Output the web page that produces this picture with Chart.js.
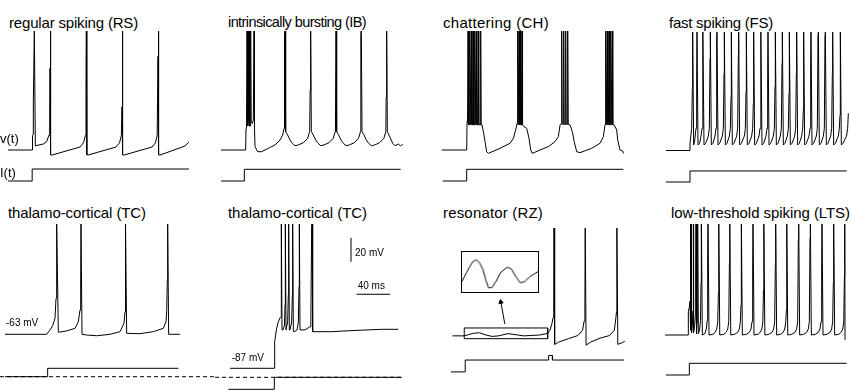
<!DOCTYPE html>
<html>
<head>
<meta charset="utf-8">
<script src="https://cdn.jsdelivr.net/npm/chart.js@4.4.1/dist/chart.umd.min.js"></script>
<style>
html, body { margin: 0; padding: 0; background: #fff; }
#fig { position: relative; width: 851px; height: 391px; overflow: hidden;
       font-family: "Liberation Sans", Arial, Helvetica, sans-serif; color: #000; }
#fig canvas { position: absolute; }
.lbl { position: absolute; white-space: nowrap; line-height: 1; }
</style>
</head>
<body>
<div id="fig"></div>
<script>
// membrane potential traces, [time ms, v mV]
var rsV = [[0,-70],[28.8,-70],[29.4,-58],[30,-57],[30.4,-30],[31.6,30],[32.8,-66.7],[33.2,-66.4],[42.4,-65],[46.4,-63],[49.2,-57.5],[50,-49],[50.4,-2],[50.8,30],[51.4,-74],
  [52.8,-74.2],[86.4,-67.5],[90.6,-64],[92.8,-58],[93.6,-14],[94,30],[94.6,-74],
  [96,-74.2],[129.6,-67.5],[133.8,-64],[136,-58],[136.8,-34],[137.2,30],[137.8,-74],
  [139.2,-74.2],[172.8,-67.5],[177,-64],[179,-58],[180,8],[180.4,30],[181,-74],
  [182.4,-74.2],[212.4,-66.7],[216,-64],[217.2,-63.3]];
var ibV = [[0,-70],[29.6,-70],[30,-52],[30.6,-47],[31.2,30],[31.8,-46],[32.2,-50],[32.8,30],[33.4,-47],[33.6,-50],[34,30],[34.6,-46],[35,-50],[35.6,30],[36.2,-46],[37.6,-48],[38.8,-45],[39.6,30],[40.2,-52],[40.8,-67],[44,-71.4],[48.8,-71.4],[56.8,-68.6],[64.8,-65.8],[70.8,-61.7],[74,-57.5],[75.6,-52],[76.2,27],[76.8,30],
  [77.6,-54.7],[80,-57.5],[82.8,-61.7],[85.6,-64.4],[88.8,-66.4],[92.8,-65.8],[98.8,-63.9],[104,-60.3],[106.4,-54.7],[107,-20],[107.6,30],
  [108.4,-54.7],[110.8,-57.5],[113.6,-61.7],[116.4,-64.4],[119.6,-66.4],[123.6,-65.8],[129.6,-63.9],[134.6,-60.3],[137,-54.7],[137.4,-37],[138,30],
  [138.8,-54.7],[141.2,-57.5],[144,-61.7],[146.8,-64.4],[150,-66.4],[154,-65.8],[160,-63.9],[165,-60.3],[167.4,-54.7],[167.8,27],[168.4,30],
  [169.2,-54.7],[171.6,-57.5],[174.4,-61.7],[177.2,-64.4],[180.4,-66.4],[184.4,-65.8],[190.4,-63.9],[195.4,-60.3],[197.8,-54.7],[198.2,-26],[198.8,30],
  [199.6,-54.7],[202.8,-59.4],[206,-64.4],[208.8,-66.4],[212.8,-65],[215.6,-66.7],[218,-65]];
var chV = [[0,-70],[30,-70],[30.4,-46.4],[31,-47],[31.6,30],[32.2,-49],[33,-49],[33.6,30],[34.2,-49],[35,-49],[35.5,30],[36.1,-49],[37,-49],[37.6,30],[38.2,-49],[39,-49],[39.6,30],[40.2,-49],[41,-49],[41.5,30],[42.1,-49],[43.2,-49],[43.9,30],[44.5,-49],[46,-49],[46.8,30],[47.4,-49],[48.4,-49],[50,-54.7],[52,-63],[54,-71.4],[56,-72.8],[70,-68.6],[82,-64.4],[86,-60.3],[89.2,-52],[90.4,-48],[91.2,30],[91.8,-49],[92.3,-49],[92.8,30],[93.4,-49],[93.8,-49],[94.3,30],[94.9,-49],[95.7,-49],[96.4,30],[97,-49],[98.8,-50.6],[102,-52],[104.8,-60.3],[106.8,-70],[108.7,-72.8],[118,-70],[128,-67.2],[136,-63],[140,-58.9],[142,-49.2],[143.2,-48],[144,30],[144.6,-48.6],[145.6,-48.6],[146.4,30],[147,-48.6],[148,-48.6],[148.8,30],[149.4,-48.6],[150.4,-48.6],[151.2,30],[151.8,-48.6],[154,-49],[156.7,-54.7],[159,-63],[162,-71.4],[166,-72.2],[180,-68.6],[190,-64.4],[194,-58.9],[196,-49],[196.8,30],[197.4,-49],[198,-49],[198.7,30],[199.3,-49],[200,-49],[200.8,30],[201.4,-49],[202,-49],[202.8,30],[203.4,-49],[204,-49],[204.7,30],[205.3,-49],[206.8,-49],[210,-53.3],[211.2,-61.7],[214,-70],[217.2,-70.8],[218,-72.8]];
var fsV = [[0,-70],[28.8,-70],[28.8,-64],[30.8,-51.5],
  [31.6,-18.2],[32,30],[33.2,-65.4],[34.4,-62],[36,-51.5],
  [36.8,-11.3],[37.2,30],[38.4,-65.4],[40.4,-64],[42,-58],[43.2,-51.5],
  [44,-5.7],[44.4,30],[45.6,-65.4],[47.6,-64],[50.8,-58],[52,-51.5],
  [52.8,6.8],[53.2,30],[54.4,-65.4],[56.4,-64],[58.8,-58],[60,-51.5],
  [60.8,20.7],[61.2,30],[62.4,-65.4],[64.4,-64],[67.6,-58],[68.8,-51.5],
  [69.6,-5.7],[70,30],[71.2,-65.4],[73.2,-64],[76,-58],[77.2,-51.5],
  [78,-25.2],[78.4,30],[79.6,-65.4],[81.6,-64],[84.8,-58],[86,-51.5],
  [86.8,9.6],[87.2,30],[88.4,-65.4],[90.4,-64],[94,-58],[95.2,-51.5],
  [96,-21],[96.4,30],[97.6,-65.4],[99.6,-64],[102.8,-58],[104,-51.5],
  [104.8,-30.7],[105.2,30],[106.4,-65.4],[108.4,-64],[111.6,-58],[112.8,-51.5],
  [113.6,2.7],[114,30],[115.2,-65.4],[117.2,-64],[120,-58],[121.2,-51.5],
  [122,-9.8],[122.4,30],[123.6,-65.4],[125.6,-64],[128.8,-58],[130,-51.5],
  [130.8,-16.8],[131.2,30],[132.4,-65.4],[134.4,-64],[137.2,-58],[138.4,-51.5],
  [139.2,2.7],[139.6,30],[140.8,-65.4],[142.8,-64],[145.6,-58],[146.8,-51.5],
  [147.6,-22.3],[148,30],[149.2,-65.4],[151.2,-64],[154.4,-58],[155.6,-51.5],
  [156.4,-5.7],[156.8,30],[158,-65.4],[160,-64],[162.8,-58],[164,-51.5],
  [164.8,-36.3],[165.2,30],[166.4,-65.4],[168.4,-64],[171.6,-58],[172.8,-51.5],
  [173.6,4],[174,30],[175.2,-65.4],[177.2,-64],[180.4,-58],[181.6,-51.5],
  [182.4,26],[182.8,30],[184,-65.4],[186,-64],[188.8,-58],[190,-51.5],
  [190.8,26],[191.2,30],[192.4,-65.4],[194.4,-64],[197.6,-58],[198.8,-51.5],
  [199.6,-5.7],[200,30],[201.2,-65.4],[203.2,-64],[206.8,-58],[208,-51.5],
  [208.8,-40.4],[209.2,30],[210.4,-65.4],[212.4,-64],[216.6,-58],[218,-51.5],[218.8,-39]];
var tc1V = [[0,-63],[50,-63],[54,-59.4],[57.2,-55.8],[60,-49.7],[61.2,-33],[61.8,19.7],[62.2,30],[64,-61.3],[74,-60.2],[84,-58],[88,-52.5],[90,-42.8],[90.8,-21.9],[91.2,30],[92.4,-63],[98,-63.6],[110,-64.2],[126,-63],[138,-60.8],[142.8,-53.8],[144,-44.2],[144.4,-19.4],[144.8,30],[146,-62.2],[162,-62.5],[178,-60.8],[190,-58],[193.2,-52.5],[194,-44.2],[194.8,-17.8],[195.2,30],[196.4,-63],[210,-63]];
var tc2V = [[0,-87],[53.2,-87],[53.6,-64.8],[56,-53.7],[58,-48.2],[60,-45],[61.2,-44],[61.6,35],[62.4,-55],[63.6,-55],[65.4,-51],[66,-34.2],[66.4,35],[67.2,-55],[67.8,-55],[69.2,-48.4],[70,-25.9],[70.4,35],[71.2,-55],[72,-55],[74,-48.4],[74.8,-25.9],[75.2,35],[76,-55],[76.8,-56.7],[80.4,-55],[82,-49.2],[82.8,-19.2],[83.2,35],[84,-55],[90,-55],[96,-52.3],[97,-48.2],[98,30],[98.4,35],[99.2,-56.5],[102,-56.5],[122,-56.5],[142,-55.7],[162,-55.1],[182,-54.5],[202,-54.5]];
var rzV = [[0,-70],[14.9,-70],[26,-67.8],[34,-67.2],[42,-69.2],[50,-70.5],[58,-70],[70,-68],[82,-69.2],[90,-70],[98,-69.7],[110,-69.2],[120,-67.8],[122.9,-65],[125.3,-59.4],[126.8,-53.8],[127.6,-49.4],[128,30],[128.8,-77.5],[134,-75.5],[146,-72.5],[158,-69.7],[164,-65],[166,-56.7],[166.9,-45.2],[167.3,30],[168.4,-78.3],[174,-75.5],[186,-72],[198,-69.7],[204,-65],[206,-53.8],[206.8,-48.3],[207.2,30],[208.4,-77.5],[214,-76],[217.2,-74.7]];
var rzInsetV = [[14.9,-69.8],[21.6,-68.7],[26,-68],[30.5,-67.4],[35,-67.2],[39.5,-67.6],[43.9,-68.3],[48.5,-69.7],[51.9,-70.5],[56.5,-70.5],[61.9,-69.8],[68.6,-68.7],[77.4,-68.1],[83.3,-68.3],[88.7,-69.1],[95.4,-69.9],[101.2,-69.8],[108.8,-69.2],[120,-68.6]];
var ltsV = [[0,-70],[28,-70],[28,-50.6],[29.4,-46],[30,-42],[30.4,30],[31,-66],[31.2,-50],[31.6,30],[32.2,-68],[33,-60],[33.6,-50],[34,30],[34.6,-68],[35.6,-62],[36.4,-54],[36.8,-26.7],[37.2,30],[37.8,-69],[38.4,-60],[39,-30],[39.4,30],[40,-69],[41.4,-66],[42.6,-58],[43.2,-26.7],[43.6,30],[44.8,-70],[47.6,-69],[49.6,-65],[50.6,-58],[51.2,-1.7],[51.6,30],[52.8,-70],
  [57.6,-69.4],[60.1,-67.8],[62.1,-65],[63.3,-58.9],[64.1,-35],[64.5,30],[65.7,-70],
  [70.5,-69.4],[73.3,-67.8],[75.3,-65],[76.5,-58.9],[77.3,-10],[77.7,30],[78.9,-70],
  [83.7,-69.4],[87.2,-67.8],[89.2,-65],[90.4,-58.9],[91.2,-45],[91.6,30],[92.8,-70],
  [97.6,-69.4],[101.2,-67.8],[103.2,-65],[104.4,-58.9],[105.2,-15.8],[105.6,30],[106.8,-70],
  [111.6,-69.4],[114.2,-67.8],[116.2,-65],[117.4,-58.9],[118.2,-32.5],[118.6,30],[119.8,-70],
  [124.6,-69.4],[128.4,-67.8],[130.4,-65],[131.6,-58.9],[132.4,-11.7],[132.8,30],[134,-70],
  [138.8,-69.4],[141.7,-67.8],[143.7,-65],[144.9,-58.9],[145.7,-49.2],[146.1,30],[147.3,-70],
  [152.1,-69.4],[156,-67.8],[158,-65],[159.2,-58.9],[160,9.2],[160.4,30],[161.6,-70],
  [166.4,-69.4],[170,-67.8],[172,-65],[173.2,-58.9],[174,10.8],[174.4,30],[175.6,-70],
  [180.4,-69.4],[184,-67.8],[186,-65],[187.2,-58.9],[188,-15.8],[188.4,30],[189.6,-70],
  [194.4,-69.4],[198,-67.8],[200,-65],[201.2,-58.9],[202,-26.7],[202.4,30],[203.6,-70],
  [208.4,-69.4],[211.3,-67.8],[213.3,-65],[214.5,-58.9],[215.3,-21.7],[215.7,30],[216,-74]];

// injected current, [time ms, I arbitrary units]
var rsI = [[0,0],[29,0],[29,10],[217.2,10]];
var ibI = [[0,0],[28,0],[28,9.75],[215.6,9.75]];
var chI = [[1.2,0],[30,0],[30,9.75],[218,9.75]];
var fsI = [[0,0],[28.8,0],[28.8,9.2],[216.8,9.2]];
var tc1I = [[0,0],[51.2,0],[51.2,7],[208,7]];
var tc2I = [[-2,-10],[53.2,-10],[53.2,0],[206,0]];
var rzI = [[-1.9,0],[16.1,0],[16.1,10.5],[121.2,10.5],[121.2,14.5],[126,14.5],[126,10.5],[216,10.5]];
var ltsI = [[1.2,0],[29.2,0],[29.2,9.75],[218,9.75]];

// zero current (dashed) in the two TC panels, [ms, I]
var tc1Zero = [[-6,0],[252,0]];
var tc2Zero = [[-18,0],[206,0]];

// zoom window on the RZ subthreshold oscillation and its pointer, [ms, mV]
var rzWindow = [[14.9,-63],[120,-63],[120,-72.5],[14.9,-72.5],[14.9,-63]];
var rzPointer = [[66,-59.4],[61,-40]];

var titles = ["regular spiking (RS)", "intrinsically bursting (IB)", "chattering (CH)", "fast spiking (FS)",
              "thalamo-cortical (TC)", "thalamo-cortical (TC)", "resonator (RZ)", "low-threshold spiking (LTS)"];
var scaleMv = 20, scaleMs = 40;

// layout (page pixels); 1.2 px per mV (and per current unit), 1.2 ms per px
var PX_PER_MV = 1.2, MS_PER_PX = 1.2;
var fig = document.getElementById('fig');

function label(text, left, top, size, width) {
    var d = document.createElement('div');
    d.className = 'lbl';
    d.textContent = text;
    d.style.left = left + 'px';
    d.style.top = top + 'px';
    d.style.fontSize = size + 'px';
    fig.appendChild(d);
    if (width) {
        // stretch/squeeze the spacing so the text spans the same width as in the figure
        var w = d.getBoundingClientRect().width;
        d.style.letterSpacing = ((width - w) / text.length) + 'px';
    }
}

function line(data, axis, dash) {
    return {
        data: data, yAxisID: axis, showLine: true, borderColor: '#000', borderWidth: 1,
        borderDash: dash || [], pointRadius: 0, tension: 0
    };
}

function makeChart(box, xr, scales, datasets) {
    var c = document.createElement('canvas');
    c.width = box[2]; c.height = box[3];
    c.style.left = box[0] + 'px'; c.style.top = box[1] + 'px';
    c.style.width = box[2] + 'px'; c.style.height = box[3] + 'px';
    fig.appendChild(c);
    var sc = { x: { type: 'linear', display: false, min: xr[0], max: xr[1] } };
    for (var k in scales) sc[k] = { type: 'linear', display: false, min: scales[k][0], max: scales[k][1] };
    return new Chart(c, {
        type: 'scatter',
        data: { datasets: datasets },
        options: {
            responsive: false, animation: false, events: [],
            layout: { padding: 0 },
            plugins: { legend: { display: false }, tooltip: { enabled: false } },
            scales: sc
        }
    });
}

var panels = [
    { box: [0, 31, 215, 165],   x0: 8,     restPy: 150,   rest: -70, iPy: 181,   v: rsV,  i: rsI },
    { box: [215, 31, 215, 165], x0: 221,   restPy: 150,   rest: -70, iPy: 181,   v: ibV,  i: ibI },
    { box: [430, 31, 210, 165], x0: 441.7, restPy: 150,   rest: -70, iPy: 181,   v: chV,  i: chI },
    { box: [640, 32, 211, 164], x0: 666,   restPy: 150.5, rest: -70, iPy: 182,   v: fsV,  i: fsI },
    { box: [0, 224, 215, 167],  x0: 5,     restPy: 334.3, rest: -63, iPy: 376.7, v: tc1V, i: tc1I, zero: tc1Zero },
    { box: [215, 224, 215, 167],x0: 230,   restPy: 368.3, rest: -87, iPy: 377.3, v: tc2V, i: tc2I, zero: tc2Zero, bars: true },
    { box: [430, 223, 210, 168],x0: 448.3, restPy: 337.7, rest: -70, iPy: 376,   v: rzV,  i: rzI, rz: true },
    { box: [640, 224, 211, 167],x0: 665,   restPy: 335,   rest: -70, iPy: 375,   v: ltsV, i: ltsI }
];

panels.forEach(function (p) {
    var b = p.box;
    var xr = [(b[0] - p.x0) * MS_PER_PX, (b[0] + b[2] - p.x0) * MS_PER_PX];
    var yr = [p.rest - (b[1] + b[3] - p.restPy) / PX_PER_MV, p.rest + (p.restPy - b[1]) / PX_PER_MV];
    var ir = [-(b[1] + b[3] - p.iPy) / PX_PER_MV, (p.iPy - b[1]) / PX_PER_MV];
    var ds = [];
    if (p.zero) ds.push(line(p.zero, 'yI', [4, 3]));
    ds.push(line(p.v, 'y'));
    ds.push(line(p.i, 'yI'));
    if (p.bars) {
        // 20 mV / 40 ms scale bars
        var bt = 145.2, bv = 1.8, ht = 152, hv = -25.3;
        ds.push(line([[bt, bv], [bt, bv + scaleMv]], 'y'));
        ds.push(line([[ht, hv], [ht + scaleMs, hv]], 'y'));
    }
    if (p.rz) {
        ds.push(line(rzWindow, 'y'));
        var arrow = line(rzPointer, 'y');
        arrow.pointRadius = function (ctx) { return ctx.dataIndex === 1 ? 2.5 : 0; };
        arrow.pointStyle = 'triangle';
        arrow.rotation = -9.5;
        arrow.pointBackgroundColor = '#000';
        arrow.pointBorderColor = '#000';
        ds.push(arrow);
    }
    makeChart(b, xr, { y: yr, yI: ir }, ds);
});

// magnified view of the RZ oscillation
var insetChart = makeChart([462, 252, 78, 42], [15.3, 120], { y: [-71.0, -66.3] }, [line(rzInsetV, 'y')]);
insetChart.canvas.style.border = '1px solid #000';
insetChart.canvas.style.left = '461px';
insetChart.canvas.style.top = '251px';

var titlePos = [[9, 14.6], [228, 14.6], [443, 14.6], [669, 14.6], [8, 204.8], [228, 204.8], [443, 204.8], [671, 204.8]];
var titleSize = [15, 14.5, 15, 15, 15, 15, 15, 15];
var titleWidth = [129, 138, 106, 104, 138, 139, 100, 179];
titles.forEach(function (t, k) { label(t, titlePos[k][0], titlePos[k][1] + (15 - titleSize[k]) * 0.85, titleSize[k], titleWidth[k]); });

label('v(t)', 0, 132, 13);
label('I(t)', 0, 166, 13);
label('-63 mV', 6, 318.2, 10);
label('-87 mV', 231.7, 353.2, 10);
label(scaleMv + ' mV', 355, 248.2, 10);
label(scaleMs + ' ms', 357.7, 280.5, 10);
</script>
</body>
</html>
